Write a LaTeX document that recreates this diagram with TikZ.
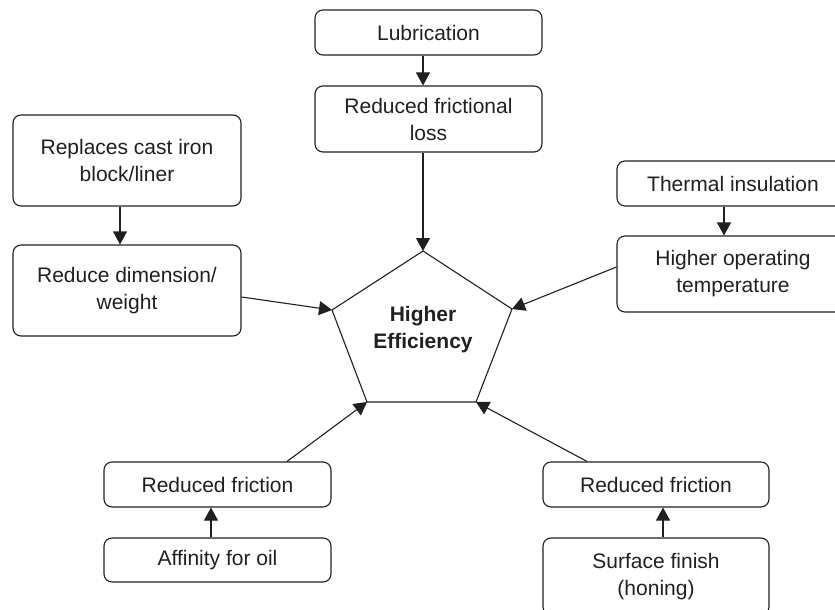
\documentclass[tikz,border=0pt]{standalone}
\usepackage{fontspec}
\setmainfont{Liberation Sans}
\usetikzlibrary{arrows.meta}
\definecolor{ink}{RGB}{35,31,32}
\begin{document}
\begin{tikzpicture}[x=1pt,y=-1pt,ink,
    box/.style={draw, rounded corners=8pt, line width=1.1pt, align=center, inner sep=0pt,
        font=\fontsize{21}{27}\selectfont},
    arr/.style={-{Triangle[length=13pt,width=14pt]}, line width=1.1pt}]
    \useasboundingbox (0,0) rectangle (835,610);
    \clip (0,0) rectangle (835,610);
    % boxes
    \node[box, minimum width=227pt, minimum height=45pt] (lub) at (428.5,32.5) {Lubrication};
    \node[box, minimum width=227pt, minimum height=66pt] (loss) at (428.5,119) {Reduced frictional\\loss};
    \node[box, minimum width=228pt, minimum height=91pt] (cast) at (127,160.5) {Replaces cast iron\\block/liner};
    \node[box, minimum width=228pt, minimum height=91pt] (dim) at (127,290.5) {Reduce dimension/\\weight};
    \node[box, minimum width=232pt, minimum height=45pt] (therm) at (733,183.5) {Thermal insulation};
    \node[box, minimum width=232pt, minimum height=76pt] (temp) at (733,274) {Higher operating\\temperature};
    \node[box, minimum width=227pt, minimum height=45pt] (rf1) at (217.5,484.5) {Reduced friction};
    \node[box, minimum width=227pt, minimum height=44pt] (oil) at (217.5,560) {Affinity for oil};
    \node[box, minimum width=226pt, minimum height=45pt] (rf2) at (656,484.5) {Reduced friction};
    \node[box, minimum width=226pt, minimum height=77pt] (surf) at (656,576.5) {Surface finish\\(honing)};
    % pentagon
    \coordinate (top) at (423,251);
    \coordinate (right) at (512,309);
    \coordinate (br) at (476,402);
    \coordinate (bl) at (367,402);
    \coordinate (left) at (332,310);
    \draw[line width=1.1pt, line join=miter] (top) -- (right) -- (br) -- (bl) -- (left) -- cycle;
    \node[font=\fontsize{21}{27}\selectfont\bfseries, align=center] (eff) at (423,330) {Higher\\Efficiency};
    % arrows
    \draw[arr] ([xshift=-5.5pt]lub.south) -- ([xshift=-5.5pt]loss.north);
    \draw[arr] (loss.south -| top) -- (top);
    \draw[arr] ([xshift=-7pt]cast.south) -- ([xshift=-7pt]dim.north);
    \draw[arr] ([yshift=-6.5pt]dim.east) -- (left);
    \draw[arr] ([xshift=-9pt]therm.south) -- ([xshift=-9pt]temp.north);
    \draw[arr] ([yshift=7pt]temp.west) -- (right);
    \draw[arr] ([xshift=-6.5pt]oil.north) -- ([xshift=-6.5pt]rf1.south);
    \draw[arr] ([xshift=69.5pt]rf1.north) -- (bl);
    \draw[arr] ([xshift=7pt]surf.north) -- ([xshift=7pt]rf2.south);
    \draw[arr] ([xshift=-69pt]rf2.north) -- (br);
\end{tikzpicture}
\end{document}
